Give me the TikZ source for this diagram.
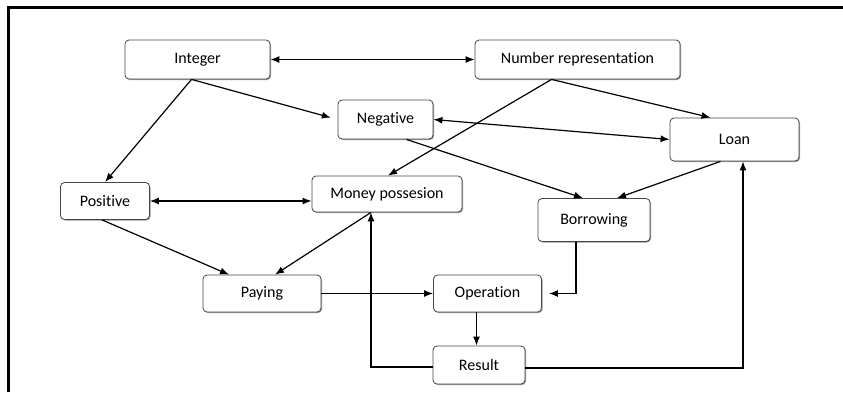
\documentclass[tikz,border=0pt]{standalone}
\usepackage{fontspec}
\setmainfont[Ligatures=NoCommon]{Carlito}
\usetikzlibrary{arrows.meta,shadows}

\definecolor{boxline}{RGB}{70,70,70}
\definecolor{boxshade}{RGB}{150,150,150}

\tikzset{
  box/.style={draw=boxline, line width=0.8pt, rounded corners=4pt, fill=white,
    inner sep=0pt, font=\fontsize{16}{18}\selectfont,
    drop shadow={shadow xshift=1pt, shadow yshift=-1pt, fill=boxshade, opacity=1}},
  link/.style={line width=1.2pt, -{Latex[length=9pt,width=7pt]}},
  twoway/.style={line width=1.2pt, {Latex[length=9pt,width=7pt]}-{Latex[length=9pt,width=7pt]}}
}

\begin{document}
\begin{tikzpicture}[x=1pt, y=-1pt]

  \useasboundingbox (0,0) rectangle (843,392);
  % frame, open on the right and at the bottom
  \draw[line width=2.2pt] (8.5,392) -- (8.5,7.5) -- (843,7.5);

  % concepts
  \node[box, minimum width=145pt, minimum height=39pt] (integer) at (197.5,59.5) {Integer};
  \node[box, minimum width=205pt, minimum height=39pt] (numrep) at (577.5,59.5) {Number representation};
  \node[box, minimum width=95pt, minimum height=39pt] (negative) at (385.5,119.5) {Negative};
  \node[box, minimum width=129pt, minimum height=43pt] (loan) at (734.5,139.5) {Loan};
  \node[box, minimum width=89pt, minimum height=37pt] (positive) at (105,201) {Positive};
  \node[box, minimum width=150pt, minimum height=36pt] (money) at (387,194) {Money possesion};
  \node[box, minimum width=112pt, minimum height=43pt] (borrow) at (594,220) {Borrowing};
  \node[box, minimum width=118pt, minimum height=37pt] (paying) at (262,293.5) {Paying};
  \node[box, minimum width=108pt, minimum height=37pt] (operation) at (487.5,293.5) {Operation};
  \node[box, minimum width=92pt, minimum height=38pt] (result) at (479,365) {Result};

  % top level links
  \draw[twoway] (integer.east) -- (numrep.west);
  \draw[link, shorten >=7pt] ([xshift=-6pt]integer.south) -- (negative.west);
  \draw[link] ([xshift=-6pt]integer.south) -- (positive.north);
  \draw[link] ([xshift=-26pt]numrep.south) -- ([xshift=1pt]money.north);
  \draw[link] ([xshift=-26pt]numrep.south) -- ([xshift=-24pt]loan.north);

  % middle level
  \draw[twoway] (negative.east) -- (loan.west);
  \draw[link] ([xshift=21pt]negative.south) -- ([xshift=-11pt]borrow.north);
  \draw[link] ([xshift=-14pt]loan.south) -- ([xshift=23pt]borrow.north);
  \draw[twoway] (positive.east) -- (positive.east -| money.west);
  \draw[link] ([xshift=-3pt]positive.south) -- ([xshift=-33pt]paying.north);
  \draw[link] ([xshift=-16pt]money.south) -- ([xshift=13pt]paying.north);

  % bottom level
  \draw[link] (paying.east) -- (operation.west);
  \draw[link, shorten >=7pt] ([xshift=-18pt]borrow.south) |- (operation.east);
  \draw[link] ([xshift=-11pt]operation.south) -- ([xshift=-11pt]operation.south |- result.north);
  \draw[link] ([yshift=-2pt]result.west) -| ([xshift=-16pt]money.south);
  \draw[link] ([yshift=-3pt]result.east) -| ([xshift=8.5pt]loan.south);

\end{tikzpicture}
\end{document}
